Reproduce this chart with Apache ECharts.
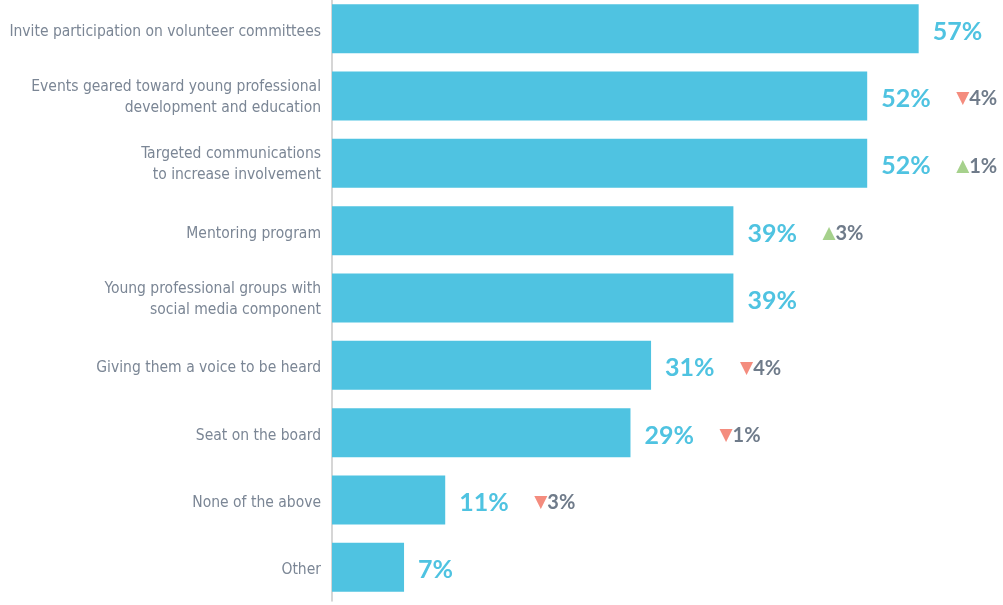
<!DOCTYPE html>
<html>
<head>
<meta charset="utf-8">
<script src="https://cdn.jsdelivr.net/npm/echarts@6/dist/echarts.min.js"></script>
<style>
	html, body { margin: 0; padding: 0; background: #ffffff; }
	#main { width: 1003px; height: 605px; }
</style>
</head>
<body>
<div id="main"></div>
<script>
const categories = [
	'Invite participation on volunteer committees',
	'Events geared toward young professional\ndevelopment and education',
	'Targeted communications\nto increase involvement',
	'Mentoring program',
	'Young professional groups with\nsocial media component',
	'Giving them a voice to be heard',
	'Seat on the board',
	'None of the above',
	'Other'
];
const values = [57, 52, 52, 39, 39, 31, 29, 11, 7];
// change vs. previous year, null = not shown
const changes = [null, -4, 1, 3, null, -4, -1, -3, null];

const labelFont = '"DejaVu Sans Condensed", sans-serif';

const chart = echarts.init(document.getElementById('main'));
const option = {
	animation: false,
	grid: {
		left: 332,
		right: 2,
		top: -5,
		bottom: 4,
		outerBoundsMode: 'none'
	},
	xAxis: {
		type: 'value',
		min: 0,
		max: 65,
		show: false
	},
	yAxis: {
		type: 'category',
		inverse: true,
		data: categories,
		axisTick: { show: false },
		axisLine: {
			show: true,
			lineStyle: { color: '#c8c8c8', width: 1.5 }
		},
		axisLabel: {
			margin: 11,
			formatter: function (v) {
				// first line gets extra top padding so the block sits a bit lower
				return v.split('\n').map(function (l, i) {
					return (i === 0 ? '{f|' : '{n|') + l + '}';
				}).join('\n');
			},
			rich: {
				f: {
					color: '#7b8695',
					fontFamily: labelFont,
					fontSize: 15.5,
					lineHeight: 24,
					padding: [6, 0, 0, 0]
				},
				n: {
					color: '#7b8695',
					fontFamily: labelFont,
					fontSize: 15.5,
					lineHeight: 24
				}
			}
		}
	},
	series: [{
		type: 'bar',
		data: values,
		barWidth: 49,
		itemStyle: { color: '#4fc3e1' },
		label: {
			show: true,
			position: 'right',
			distance: 14,
			offset: [0, 3],
			formatter: function (p) {
				const c = changes[p.dataIndex];
				let s = '{v|' + p.value + '%}';
				if (c !== null) {
					s += (c < 0 ? '{dn|▼}' : '{up|▲}') + '{c|' + Math.abs(c) + '%}';
				}
				return s;
			},
			rich: {
				v: {
					width: 75,
					color: '#4fc3e1',
					fontFamily: 'Lato',
					fontWeight: 'bold',
					fontSize: 25
				},
				dn: {
					color: '#f48c7e',
					fontFamily: 'DejaVu Sans',
					fontSize: 17
				},
				up: {
					color: '#a6d18c',
					fontFamily: 'DejaVu Sans',
					fontSize: 17
				},
				c: {
					color: '#6f7b8a',
					fontFamily: 'Lato',
					fontWeight: 'bold',
					fontSize: 20
				}
			}
		}
	}]
};
chart.setOption(option);
</script>
</body>
</html>
